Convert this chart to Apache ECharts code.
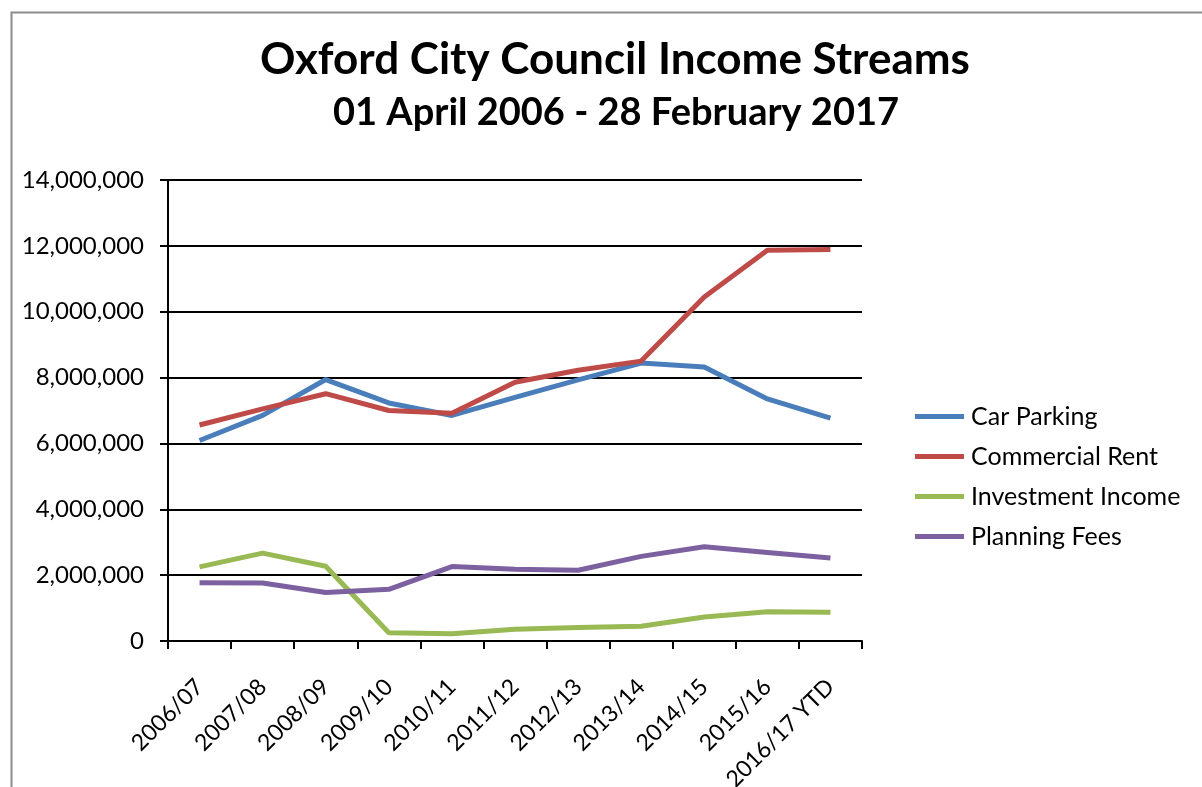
<!DOCTYPE html>
<html>
<head>
<meta charset="utf-8">
<script src="https://cdn.jsdelivr.net/npm/echarts@6/dist/echarts.min.js"></script>
<style>
html,body{margin:0;padding:0;background:#fff;}
#chart{width:1202px;height:787px;}
</style>
</head>
<body>
<div id="chart"></div>
<script>
var categories = ['2006/07','2007/08','2008/09','2009/10','2010/11','2011/12','2012/13','2013/14','2014/15','2015/16','2016/17 YTD'];
var carParking = [6090000,6850000,7940000,7230000,6850000,7400000,7930000,8440000,8320000,7350000,6770000];
var commercialRent = [6560000,7050000,7510000,7000000,6920000,7860000,8220000,8500000,10450000,11870000,11890000];
var investmentIncome = [2250000,2670000,2270000,250000,220000,360000,410000,450000,730000,890000,870000];
var planningFees = [1770000,1760000,1470000,1570000,2260000,2180000,2150000,2570000,2860000,2690000,2520000];
var seriesNames = ['Car Parking','Commercial Rent','Investment Income','Planning Fees'];
var seriesColors = ['#4A7EBB','#BE4B48','#98B954','#7D60A0'];
var seriesData = [carParking, commercialRent, investmentIncome, planningFees];

var FONT = 'Lato, "Open Sans", sans-serif';
var chart = echarts.init(document.getElementById('chart'), null, {renderer:'canvas'});
var option = {
  backgroundColor:'#fff',
  animation:false,
  textStyle:{fontFamily:FONT},
  graphic:[{
    type:'rect', left:9, top:10, silent:true,
    shape:{width:1210, height:800},
    style:{fill:'none', stroke:'#8c8c8c', lineWidth:2}
  }],
  title:[{
    text:'Oxford City Council Income Streams',
    left:255, top:33,
    textStyle:{fontFamily:FONT, fontSize:44, fontWeight:'bold', color:'#000'}
  },{
    text:'01 April 2006 - 28 February 2017',
    left:328, top:89,
    textStyle:{fontFamily:FONT, fontSize:38, fontWeight:'bold', color:'#000'}
  }],
  legend:{
    orient:'vertical', left:910, top:399,
    icon:'rect', itemWidth:49, itemHeight:5, itemGap:15,
    textStyle:{fontFamily:FONT, fontSize:25, color:'#000', lineHeight:25, padding:[0,0,0,2]},
    data:seriesNames
  },
  grid:{left:168, right:340, top:180, bottom:146, containLabel:false, outerBoundsMode:'none'},
  xAxis:{
    type:'category', data:categories, boundaryGap:true,
    axisLine:{lineStyle:{color:'#000', width:2}},
    axisTick:{show:true, length:8, lineStyle:{color:'#000', width:2}},
    axisLabel:{rotate:45, fontFamily:FONT, fontSize:23, color:'#000', margin:42, interval:0}
  },
  yAxis:{
    type:'value', min:0, max:14000000, interval:2000000,
    axisLine:{show:true, lineStyle:{color:'#000', width:2}},
    axisTick:{show:true, length:8, lineStyle:{color:'#000', width:2}},
    splitLine:{lineStyle:{color:'#000', width:2}},
    axisLabel:{fontFamily:FONT, fontSize:24, color:'#000', margin:24,
      formatter:function(v){return v.toString().replace(/\B(?=(\d{3})+(?!\d))/g, ',');}}
  },
  series: seriesNames.map(function(n,i){
    return {name:n, type:'line', data:seriesData[i], symbol:'none', smooth:false,
      lineStyle:{color:seriesColors[i], width:5}, itemStyle:{color:seriesColors[i]}};
  })
};
chart.setOption(option);
</script>
</body>
</html>
